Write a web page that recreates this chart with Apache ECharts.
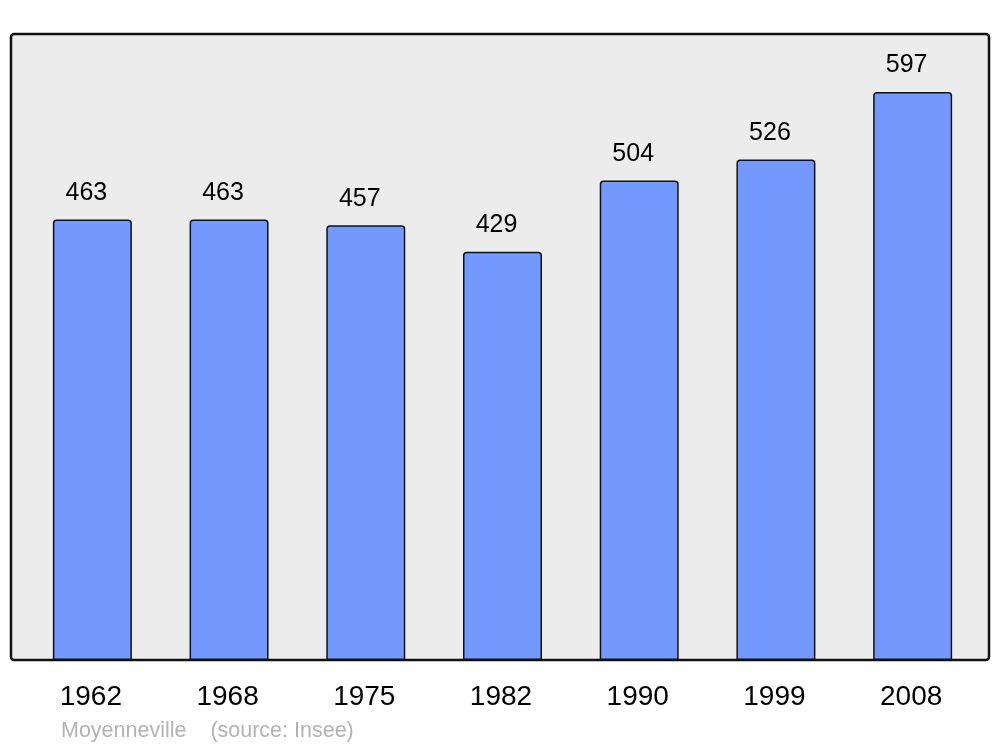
<!DOCTYPE html>
<html><head><meta charset="utf-8">
<script src="https://cdn.jsdelivr.net/npm/echarts@6/dist/echarts.min.js"></script>
<style>html,body{margin:0;padding:0;background:#fff}#c{width:1000px;height:747px}</style>
</head><body><div id="c"></div>
<script>
const years = ['1962','1968','1975','1982','1990','1999','2008'];
const population = [463,463,457,429,504,526,597];
const footer = 'Moyenneville    (source: Insee)';

const chart = echarts.init(document.getElementById('c'), null, {renderer:'canvas'});
chart.setOption({
  animation:false,
  backgroundColor:'#ffffff',
  graphic:[
    {type:'rect', z:-10, shape:{x:11, y:34, width:978, height:626, r:3},
     style:{fill:'#ececec', stroke:'#111', lineWidth:2.5}},
    {type:'text', left:61, top:720, style:{text:footer, fill:'#b3b3b3', font:'21.5px "Liberation Sans", Arial, sans-serif'}}
  ],
  grid:{left:24, right:19, top:34, bottom:87, containLabel:false},
  xAxis:{type:'category', data:years,
    axisLine:{show:false}, axisTick:{show:false},
    axisLabel:{color:'#000', fontSize:28, fontFamily:'"Liberation Sans", Arial, sans-serif', margin:23, padding:[0,3,0,0]}},
  yAxis:{type:'value', min:0, max:658, show:false, splitLine:{show:false}},
  series:[{type:'bar', data:population, barWidth:79,
    itemStyle:{color:'#7399ff', borderColor:'#111', borderWidth:1.5, borderRadius:[3,3,0,0]},
    label:{show:true, position:'top', distance:14, offset:[-6,0], color:'#000', fontSize:25,
      fontFamily:'"Liberation Sans", Arial, sans-serif'}}]
});
</script></body></html>
